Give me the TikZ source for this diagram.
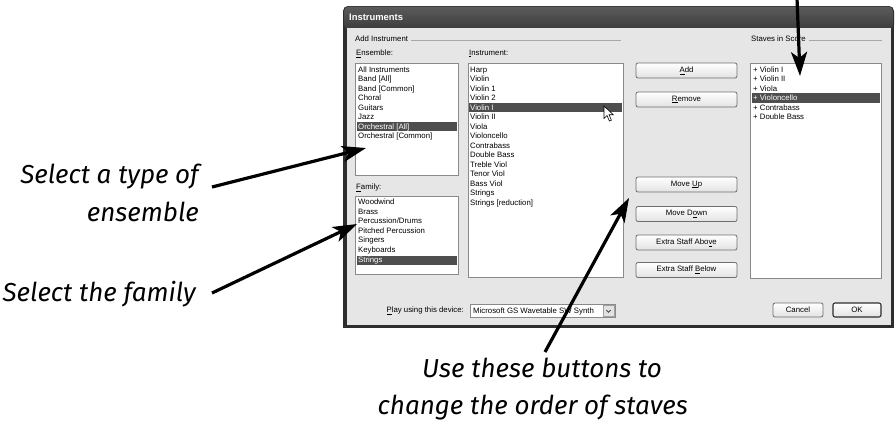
\documentclass[tikz,border=0pt]{standalone}
\usepackage{fontspec}
\setmainfont{Liberation Sans}
\newfontfamily\annotfont{Fira Sans}
\usetikzlibrary{arrows.meta}
\definecolor{dlgbg}{HTML}{E6E6E6}
\definecolor{framedark}{HTML}{2E2E2E}
\definecolor{titletop}{HTML}{5C5C5C}
\definecolor{titlebot}{HTML}{3A3A3A}
\definecolor{hlgray}{HTML}{4E4E4E}
\definecolor{boxgray}{HTML}{8A8A8A}
\definecolor{btngray}{HTML}{6E6E6E}
\definecolor{btnbot}{HTML}{E2E2E2}
\definecolor{grpline}{HTML}{A8A8A8}
\tikzset{
  ui/.style={font=\fontsize{7.8}{9}\selectfont, inner sep=0pt},
  itemtxt/.style={ui, anchor=base west},
  hltxt/.style={ui, anchor=base west, text=white},
  hlbar/.style={fill=hlgray},
  listbox/.style={draw=boxgray, fill=white, line width=0.8pt, anchor=north west, inner sep=0pt},
  btnbox/.style={draw=btngray, rounded corners=2pt, top color=white, bottom color=btnbot, line width=0.8pt, minimum height=15pt, inner sep=0pt, ui},
  annot/.style={font=\annotfont\itshape\fontsize{26}{31}\selectfont, inner sep=0pt},
  callout/.style={line width=3.2pt, -{Stealth[length=24pt,width=16pt,inset=6pt]}},
  grp/.style={draw=grpline, line width=0.8pt},
}
\begin{document}
\begin{tikzpicture}[x=1pt,y=-1pt]
\useasboundingbox (0,0) rectangle (895,434);
% dialog frame
\fill[framedark, rounded corners=5pt] (343,6) rectangle (894,30);
\fill[framedark] (343,20) rectangle (894,328);
\shade[top color=titletop, bottom color=titlebot, rounded corners=5pt] (344,6.5) rectangle (893,30);
\fill[dlgbg] (346.5,28) rectangle (891,325);
\node[anchor=west, font=\bfseries\fontsize{9.4}{11}\selectfont, text=white, inner sep=0pt] (title) at (349,17) {Instruments};

% group headers
\node[ui, anchor=west] (grpadd) at (355,38.5) {Add Instrument};
\coordinate (grpaddend) at (621,40);
\draw[grp] ([xshift=3pt]grpadd.east |- grpaddend) -- (grpaddend);
\node[ui, anchor=west] (grpstaves) at (751,38.5) {Staves in Score};
\coordinate (grpstavesend) at (882,40);
\draw[grp] ([xshift=3pt]grpstaves.east |- grpstavesend) -- (grpstavesend);

% labels
\node[ui, anchor=west] (lblens) at (356,53.5) {\underline{E}nsemble:};
\node[ui, anchor=west] (lblinst) at (469,53.5) {\underline{I}nstrument:};
\node[ui, anchor=west] (lblfam) at (356,188) {\underline{F}amily:};

% list boxes
\node[listbox, minimum width=103pt, minimum height=112pt] (ensbox) at (355,63) {};
\node[listbox, minimum width=103pt, minimum height=78pt] (fambox) at (355,196) {};
\node[listbox, minimum width=155pt, minimum height=214pt] (instbox) at (468,63) {};
\node[listbox, minimum width=131pt, minimum height=215pt] (stavbox) at (750,63) {};

% ensemble items
\foreach \t [count=\i from 0] in {All Instruments,Band [All],Band [Common],Choral,Guitars,Jazz}
  \node[itemtxt] (ens\i) at (358,{72.1+9.5*\i}) {\t};
\fill[hlgray] (357,121.5) rectangle (457,131);
\node[hltxt] (ens6) at (358,{72.1+9.5*6}) {Orchestral [All]};
\node[itemtxt] (ens7) at (358,{72.1+9.5*7}) {Orchestral [Common]};

% family items
\foreach \t [count=\i from 0] in {Woodwind,Brass,Percussion/Drums,Pitched Percussion,Singers,Keyboards}
  \node[itemtxt] (fam\i) at (358,{204.5+9.6*\i}) {\t};
\fill[hlgray] (357,255.5) rectangle (457,264.5);
\node[hltxt] (fam6) at (358,{204.5+9.6*6}) {Strings};

% instrument items
\foreach \t [count=\i from 0] in {Harp,Violin,Violin 1,Violin 2}
  \node[itemtxt] (inst\i) at (470,{72.1+9.5*\i}) {\t};
\fill[hlgray] (469,102.5) rectangle (622,112);
\node[hltxt] (inst4) at (470,{72.1+9.5*4}) {Violin I};
\foreach \t [count=\i from 5] in {Violin II,Viola,Violoncello,Contrabass,Double Bass,Treble Viol,Tenor Viol,Bass Viol,Strings,Strings [reduction]}
  \node[itemtxt] (inst\i) at (470,{72.1+9.5*\i}) {\t};

% staves items
\foreach \t [count=\i from 0] in {+ Violin I,+ Violin II,+ Viola}
  \node[itemtxt] (stav\i) at (753,{72.1+9.5*\i}) {\t};
\fill[hlgray] (752,93) rectangle (880,102.5);
\node[hltxt] (stav3) at (753,{72.1+9.5*3}) {+ Violoncello};
\foreach \t [count=\i from 4] in {+ Contrabass,+ Double Bass}
  \node[itemtxt] (stav\i) at (753,{72.1+9.5*\i}) {\t};

% mouse cursor
\draw[fill=white, line width=0.6pt, line join=miter] (604,106) -- ++(0,12.5) -- ++(3,-3) -- ++(2.4,5.5) -- ++(2,-0.9) -- ++(-2.4,-5.4) -- ++(4.2,0) -- cycle;

% buttons
\node[btnbox, minimum width=101pt] (badd) at (686.5,70.5) {\underline{A}dd};
\node[btnbox, minimum width=101pt] (bremove) at (686.5,99.5) {\underline{R}emove};
\node[btnbox, minimum width=101pt] (bup) at (686.5,184.5) {Move \underline{U}p};
\node[btnbox, minimum width=101pt] (bdown) at (686.5,214) {Move D\underline{o}wn};
\node[btnbox, minimum width=101pt] (babove) at (686.5,242.5) {Extra Staff Abo\underline{v}e};
\node[btnbox, minimum width=101pt] (bbelow) at (686.5,270) {Extra Staff \underline{B}elow};
\node[btnbox, minimum width=50pt, minimum height=14pt] (bcancel) at (798,310) {Cancel};
\node[btnbox, draw=framedark, line width=1.1pt, minimum width=48pt, minimum height=14pt] (bok) at (857,310) {OK};

% device combo
\node[ui, anchor=east] (lblplay) at (464,311) {\underline{P}lay using this device:};
\node[draw=boxgray, fill=white, line width=0.8pt, anchor=west, minimum width=145pt, minimum height=13pt, inner sep=0pt] (combo) at (470,311) {};
\node[ui, anchor=west] (combotxt) at (473,311) {Microsoft GS Wavetable SW Synth};
\node[draw=boxgray!80, fill=btnbot, minimum width=11pt, minimum height=11pt, inner sep=0pt] (combobtn) at (608.5,311) {};
\draw[line width=0.8pt, black!70] ([shift={(-2.2,-1)}]combobtn.center) -- ([shift={(0,1.2)}]combobtn.center) -- ([shift={(2.2,-1)}]combobtn.center);

% annotations
\node[annot, anchor=base east] (ann1a) at (199,183) {Select a type of};
\node[annot, anchor=base east] (ann1b) at (199,221) {ensemble};
\node[annot, anchor=base east] (ann2) at (196,301) {Select the family};
\node[annot, anchor=base east] (ann3a) at (662,377.5) {Use these buttons to};
\node[annot, anchor=base east] (ann3b) at (688,414.5) {change the order of staves};

% callout arrows
\coordinate (topfree) at (797,-2);
\coordinate (stavtip) at (800,76);
\coordinate (a1start) at (212,187);
\coordinate (enstip) at (366,148);
\coordinate (a2start) at (212,293);
\coordinate (famtip) at (357,224);
\coordinate (a3start) at (545,352);
\coordinate (btntip) at (629,198);
\draw[callout] (topfree) -- (stavtip);
\draw[callout] (a1start) -- (enstip);
\draw[callout] (a2start) -- (famtip);
\draw[callout] (a3start) -- (btntip);
\end{tikzpicture}
\end{document}
